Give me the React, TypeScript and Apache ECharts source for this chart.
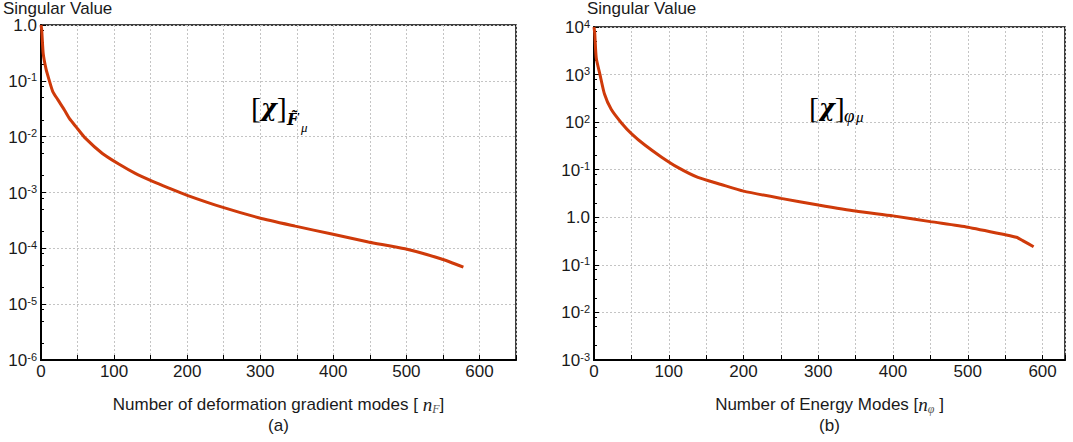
import React, { useEffect, useRef } from 'react';
import * as echarts from 'echarts';

// ---- data ----
const nF = [0, 1, 3, 7, 11, 16, 23, 32, 39, 48, 61, 84, 107, 129, 152, 175, 200, 249, 299, 348, 398, 448, 498, 547, 578];
const svF = [1.0, 0.81, 0.31, 0.16, 0.105, 0.065, 0.046, 0.03, 0.021, 0.015, 0.0093, 0.005, 0.0032, 0.0022, 0.0016, 0.0012, 0.00089, 0.00054, 0.00035, 0.00025, 0.00018, 0.00013, 0.000098, 0.000065, 0.000046];

const nPhi = [0, 1, 3, 8, 14, 23, 37, 50, 68, 90, 112, 139, 170, 200, 250, 300, 350, 400, 450, 500, 550, 565, 574, 588];
const svPhi = [10000, 7400, 2240, 1000, 390, 186, 95, 57.5, 33, 18.6, 11.2, 6.9, 4.9, 3.55, 2.5, 1.82, 1.35, 1.07, 0.81, 0.62, 0.43, 0.38, 0.32, 0.24];

const leftMajor = [1, 1e-1, 1e-2, 1e-3, 1e-4, 1e-5, 1e-6];
const leftLabels = ['1.0', '10^-1', '10^-2', '10^-3', '10^-4', '10^-5', '10^-6'];
const rightMajor = [1e4, 1e3, 1e2, 1e1, 1, 1e-1, 1e-2, 1e-3];
const rightLabels = ['10^4', '10^3', '10^2', '10^-1', '1.0', '10^-1', '10^-2', '10^-3'];
const minorFactors = [0.8, 0.5, 0.2];

const xLabelStep = 100;
const yTitle = 'Singular Value';
const xTitleA = 'Number of deformation gradient modes [ ';
const xTitleB = 'Number of Energy Modes [';

const FONT = 'Liberation Sans';
const TXT = '#1a1a1a';
const LINE = '#cf3a0a';
const GRIDC = '#c4c4c4';

const minorOf = (majors: number[]) => {
  const out: number[] = [];
  majors.forEach((m) => minorFactors.forEach((f) => out.push(m * f)));
  const lo = Math.min(...majors);
  return out.filter((v) => v > lo);
};

const yFmt = (majors: number[], labels: string[]) => (v: number) => {
  const i = majors.findIndex((m) => Math.abs(Math.log10(m) - Math.log10(v)) < 1e-6);
  if (i < 0) return '';
  const s = labels[i];
  const k = s.indexOf('^');
  return k < 0 ? `{b|${s}}` : `{b|${s.slice(0, k)}}{sup|${s.slice(k + 1)}}`;
};

const yRich = {
  b: { fontSize: 17, fontFamily: FONT, color: TXT, lineHeight: 18, verticalAlign: 'bottom' },
  sup: { fontSize: 11, fontFamily: FONT, color: TXT, lineHeight: 11, verticalAlign: 'top' },
};

const xAxisBase = (gridIndex: number, max: number, name: string) => ({
  type: 'value',
  gridIndex,
  min: 0,
  max,
  interval: 50,
  axisLine: { show: true, onZero: false, lineStyle: { color: '#000', width: 2 } },
  axisTick: { show: true, inside: true, length: 5, lineStyle: { color: '#000', width: 1 } },
  axisLabel: {
    formatter: (v: number) => (v % xLabelStep === 0 ? String(v) : ''),
    fontSize: 17,
    fontFamily: FONT,
    color: TXT,
    margin: 3,
  },
  splitLine: { show: true, lineStyle: { color: GRIDC, type: [2, 2], width: 1 } },
  name,
  nameLocation: 'middle',
  nameGap: 34,
  nameTextStyle: {
    fontFamily: FONT,
    fontSize: 17,
    color: TXT,
    lineHeight: 21,
    rich: {
      t: { fontFamily: FONT, fontSize: 17, color: TXT, lineHeight: 21 },
      i: { fontFamily: 'Liberation Serif', fontStyle: 'italic', fontSize: 19, color: TXT, lineHeight: 21 },
      s: { fontFamily: 'Liberation Serif', fontStyle: 'italic', fontSize: 12, color: '#555', lineHeight: 21, padding: [8, 0, 0, 0] },
    },
  },
});

const yAxisMain = (gridIndex: number, min: number, max: number, majors: number[], labels: string[]) => ({
  type: 'log',
  logBase: 10,
  gridIndex,
  min,
  max,
  position: 'left',
  axisLine: { show: true, lineStyle: { color: '#000', width: 2 } },
  axisTick: { show: true, inside: true, length: 5, customValues: majors, lineStyle: { color: '#000', width: 1 } },
  axisLabel: { customValues: majors, formatter: yFmt(majors, labels), rich: yRich, margin: 4 },
  splitLine: { show: true, lineStyle: { color: GRIDC, type: [2, 2], width: 1 } },
});

const yAxisMinor = (gridIndex: number, min: number, max: number, majors: number[]) => ({
  type: 'log',
  logBase: 10,
  gridIndex,
  min,
  max,
  position: 'left',
  axisLine: { show: false },
  axisTick: { show: true, inside: true, length: 3, customValues: minorOf(majors), lineStyle: { color: '#000', width: 1 } },
  axisLabel: { show: false },
  splitLine: { show: false },
});

const chiText = (x: number) => ({
  type: 'text', x, y: 107,
  style: {
    text: '{br|[}{chi|χ}{br|]}',
    verticalAlign: 'middle',
    rich: {
      br: { fontFamily: 'Liberation Serif', fontSize: 30, fill: '#000' },
      chi: { fontFamily: 'DejaVu Serif', fontSize: 24, fontStyle: 'italic', fontWeight: 'bold', fill: '#000' },
    },
  },
});

export default function App() {
  const ref = useRef<HTMLDivElement>(null);
  useEffect(() => {
    if (!ref.current) return;
    const chart = echarts.init(ref.current, undefined, { renderer: 'svg' });
    const option: any = {
      animation: false,
      backgroundColor: '#fff',
      grid: [
        { left: 41, top: 25, width: 475, height: 335, show: true, borderColor: '#000', borderWidth: 1.5, containLabel: false },
        { left: 594, top: 27, width: 471, height: 333, show: true, borderColor: '#000', borderWidth: 1.5, containLabel: false },
      ],
      xAxis: [
        xAxisBase(0, 650, `{t|${xTitleA}}{i|n}{s|F}{t|]}\n{t|(a)}`),
        xAxisBase(1, 630, `{t|${xTitleB}}{i|n}{s|φ}{t| ]}\n{t|(b)}`),
      ],
      yAxis: [
        yAxisMain(0, 1e-6, 1, leftMajor, leftLabels),
        yAxisMinor(0, 1e-6, 1, leftMajor),
        yAxisMain(1, 1e-3, 1e4, rightMajor, rightLabels),
        yAxisMinor(1, 1e-3, 1e4, rightMajor),
      ],
      series: [
        {
          type: 'line',
          xAxisIndex: 0,
          yAxisIndex: 0,
          data: nF.map((n, i) => [n, svF[i]]),
          showSymbol: false,
          smooth: 0.2,
          lineStyle: { color: LINE, width: 3 },
        },
        {
          type: 'line',
          xAxisIndex: 1,
          yAxisIndex: 2,
          data: nPhi.map((n, i) => [n, svPhi[i]]),
          showSymbol: false,
          smooth: 0.2,
          lineStyle: { color: LINE, width: 3 },
        },
      ],
      graphic: [
        { type: 'text', left: 3, top: 0, style: { text: yTitle, fontFamily: FONT, fontSize: 17, fill: TXT } },
        { type: 'text', left: 587, top: 0, style: { text: yTitle, fontFamily: FONT, fontSize: 17, fill: TXT } },
        chiText(251),
        { type: 'text', x: 287, y: 119, style: { text: 'F̃', fontFamily: 'DejaVu Serif', fontStyle: 'italic', fontWeight: 'bold', fontSize: 16, fill: '#000', verticalAlign: 'middle' } },
        { type: 'text', x: 301, y: 127, style: { text: 'μ', fontFamily: 'Liberation Serif', fontStyle: 'italic', fontSize: 13, fill: '#000', verticalAlign: 'middle' } },
        chiText(809),
        { type: 'text', x: 844, y: 115, style: { text: 'φ', fontFamily: 'Liberation Serif', fontStyle: 'italic', fontSize: 19, fill: '#000', verticalAlign: 'middle' } },
        { type: 'text', x: 856, y: 117, style: { text: 'μ', fontFamily: 'Liberation Serif', fontStyle: 'italic', fontSize: 15, fill: '#000', verticalAlign: 'middle' } },
      ],
    };
    chart.setOption(option);
    return () => chart.dispose();
  }, []);
  return (
    <div
      ref={ref}
      style={{ position: 'absolute', left: 0, top: 0, width: 1073, height: 442, background: '#fff' }}
    />
  );
}
